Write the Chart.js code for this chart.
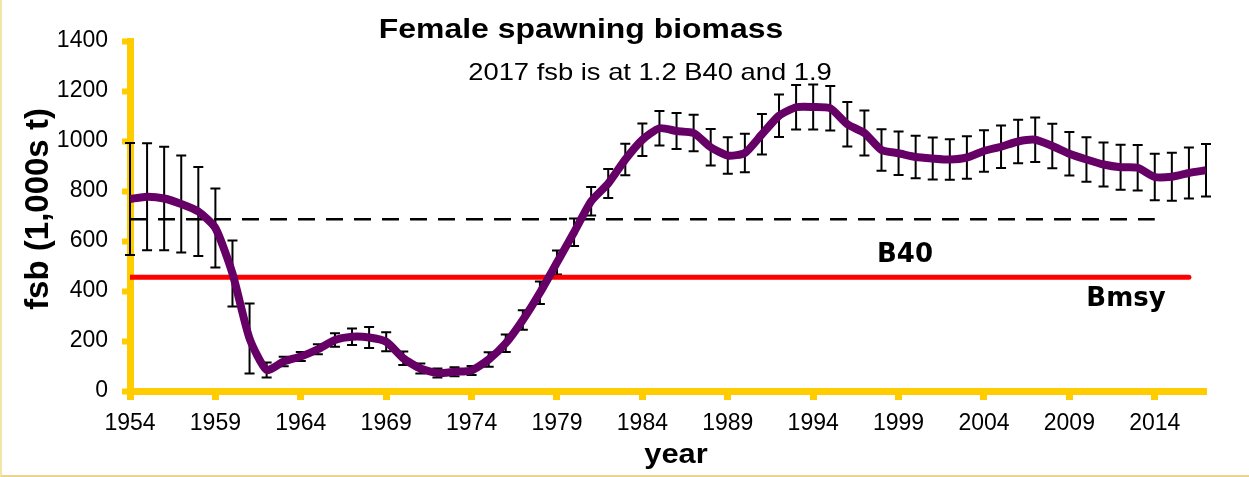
<!DOCTYPE html>
<html>
<head>
<meta charset="utf-8">
<title>Female spawning biomass</title>
<script src="https://cdn.jsdelivr.net/npm/chart.js@4.4.1/dist/chart.umd.min.js"></script>
<style>
  html, body { margin: 0; padding: 0; background: #fff; }
  #wrap { position: relative; width: 1249px; height: 477px; }
  #frame {
    position: absolute; left: 0; top: 0; width: 1249px; height: 477px;
    box-sizing: border-box; pointer-events: none;
    border-left: 2px solid #f3e4a8; border-bottom: 2px solid #ead48e;
  }
</style>
</head>
<body>
<div id="wrap">
  <canvas id="myChart" width="1249" height="477"></canvas>
  <div id="frame"></div>
</div>
<script>
  "use strict";

  const years = [
    1954, 1955, 1956, 1957, 1958, 1959, 1960, 1961, 1962, 1963,
    1964, 1965, 1966, 1967, 1968, 1969, 1970, 1971, 1972, 1973,
    1974, 1975, 1976, 1977, 1978, 1979, 1980, 1981, 1982, 1983,
    1984, 1985, 1986, 1987, 1988, 1989, 1990, 1991, 1992, 1993,
    1994, 1995, 1996, 1997, 1998, 1999, 2000, 2001, 2002, 2003,
    2004, 2005, 2006, 2007, 2008, 2009, 2010, 2011, 2012, 2013,
    2014, 2015, 2016, 2017
  ];

  // female spawning biomass, 1,000s t
  const fsb = [
    768, 777, 770, 748, 718, 652, 470, 210, 84, 118,
    138, 167, 204, 217, 214, 197, 131, 90, 72, 77,
    82, 126, 191, 284, 393, 514, 635, 759, 830, 926,
    1005, 1051, 1040, 1032, 975, 942, 952, 1027, 1101, 1135,
    1136, 1131, 1067, 1032, 964, 951, 936, 930, 926, 934,
    960, 977, 998, 1005, 980, 949, 926, 906, 895, 893,
    856, 857, 872, 883
  ];

  // half width of the error bars
  const fsbErr = [
    224, 214, 207, 194, 178, 158, 132, 140, 30, 19,
    18, 20, 27, 33, 42, 38, 27, 20, 18, 18,
    18, 29, 35, 39, 45, 48, 55, 57, 58, 63,
    65, 69, 72, 73, 73, 73, 77, 81, 85, 89,
    90, 89, 89, 90, 83, 87, 85, 84, 81, 85,
    83, 85, 87, 89, 89, 87, 89, 88, 90, 91,
    93, 96, 102, 105
  ];

  const b40 = 687;
  const b40Years = [1954, 2014];
  const bmsy = 455;
  const bmsyYears = [1954, 2016];

  const xTickYears = [1954, 1959, 1964, 1969, 1974, 1979, 1984, 1989, 1994, 1999, 2004, 2009, 2014];

  const YELLOW = "#FFCC00";
  const PURPLE = "#660066";
  const ARIAL = "'Liberation Sans', Arial, sans-serif";

  const errorBars = {
    id: "errorBars",
    beforeDatasetsDraw(chart) {
      const ctx = chart.ctx;
      const xs = chart.scales.x;
      const ys = chart.scales.y;
      ctx.save();
      ctx.strokeStyle = "#000";
      ctx.lineWidth = 2;
      years.forEach(function (yr, i) {
        const x = xs.getPixelForValue(yr);
        const top = ys.getPixelForValue(fsb[i] + fsbErr[i]);
        const bot = ys.getPixelForValue(fsb[i] - fsbErr[i]);
        ctx.beginPath();
        ctx.moveTo(x, top);
        ctx.lineTo(x, bot);
        ctx.moveTo(x - 5, top);
        ctx.lineTo(x + 5, top);
        ctx.moveTo(x - 5, bot);
        ctx.lineTo(x + 5, bot);
        ctx.stroke();
      });
      ctx.restore();
    }
  };

  function stretchText(ctx, text, x, y, font, sx) {
    ctx.save();
    ctx.translate(x, y);
    ctx.scale(sx, 1);
    ctx.font = font;
    ctx.textAlign = "center";
    ctx.textBaseline = "alphabetic";
    ctx.fillStyle = "#000";
    ctx.fillText(text, 0, 0);
    ctx.restore();
  }

  const labels = {
    id: "labels",
    afterDraw(chart) {
      const ctx = chart.ctx;
      stretchText(ctx, "Female spawning biomass", 581, 38, "bold 28px " + ARIAL, 1.14);
      stretchText(ctx, "2017 fsb is at 1.2 B40 and 1.9", 650, 80, "24px " + ARIAL, 1.14);
      stretchText(ctx, "year", 676, 463, "bold 27px " + ARIAL, 1.14);
      stretchText(ctx, "B40", 905, 262, "bold 26px 'DejaVu Sans', sans-serif", 1);
      stretchText(ctx, "Bmsy", 1126, 306, "bold 26px 'DejaVu Sans', sans-serif", 1);

      ctx.save();
      ctx.translate(48, 209);
      ctx.rotate(-Math.PI / 2);
      ctx.font = "bold 33px " + ARIAL;
      ctx.textAlign = "center";
      ctx.textBaseline = "alphabetic";
      ctx.fillStyle = "#000";
      ctx.fillText("fsb (1,000s t)", 0, 0);
      ctx.restore();
    }
  };

  const ctx = document.getElementById("myChart");

  new Chart(ctx, {
    type: "line",
    data: {
      datasets: [
        {
          label: "fsb",
          data: years.map(function (yr, i) { return { x: yr, y: fsb[i] }; }),
          borderColor: PURPLE,
          borderWidth: 8,
          pointRadius: 0,
          tension: 0.2,
          borderJoinStyle: "round",
          order: 0
        },
        {
          label: "B40",
          data: b40Years.map(function (yr) { return { x: yr, y: b40 }; }),
          borderColor: "#000",
          borderWidth: 2.5,
          borderDash: [17, 11],
          pointRadius: 0,
          order: 1
        },
        {
          label: "Bmsy",
          data: bmsyYears.map(function (yr) { return { x: yr, y: bmsy }; }),
          borderColor: "#FF0000",
          borderWidth: 5,
          borderCapStyle: "round",
          pointRadius: 0,
          order: 2
        }
      ]
    },
    options: {
      responsive: false,
      animation: false,
      devicePixelRatio: 1,
      layout: {
        padding: { top: 41, right: 43, left: 0, bottom: 0 }
      },
      plugins: {
        legend: { display: false },
        tooltip: { enabled: false },
        title: { display: false }
      },
      scales: {
        x: {
          type: "linear",
          min: 1954,
          max: 2017,
          afterBuildTicks: function (scale) {
            scale.ticks = xTickYears.map(function (v) { return { value: v }; });
          },
          afterFit: function (scale) {
            scale.height = 86;
          },
          ticks: {
            autoSkip: false,
            maxRotation: 0,
            padding: 10,
            color: "#000",
            font: { family: ARIAL, size: 23 },
            callback: function (value) {
              return String(value);
            }
          },
          grid: {
            drawOnChartArea: false,
            tickLength: 9,
            tickWidth: 7,
            tickColor: YELLOW
          },
          border: { color: YELLOW, width: 7 }
        },
        y: {
          min: 0,
          max: 1400,
          afterFit: function (scale) {
            scale.width = 130;
          },
          ticks: {
            stepSize: 200,
            padding: 14,
            color: "#000",
            font: { family: ARIAL, size: 23 },
            callback: function (value) {
              return String(value);
            }
          },
          grid: {
            drawOnChartArea: false,
            tickLength: 8,
            tickWidth: 6,
            tickColor: YELLOW
          },
          border: { color: YELLOW, width: 7 }
        }
      }
    },
    plugins: [errorBars, labels]
  });
</script>
</body>
</html>
